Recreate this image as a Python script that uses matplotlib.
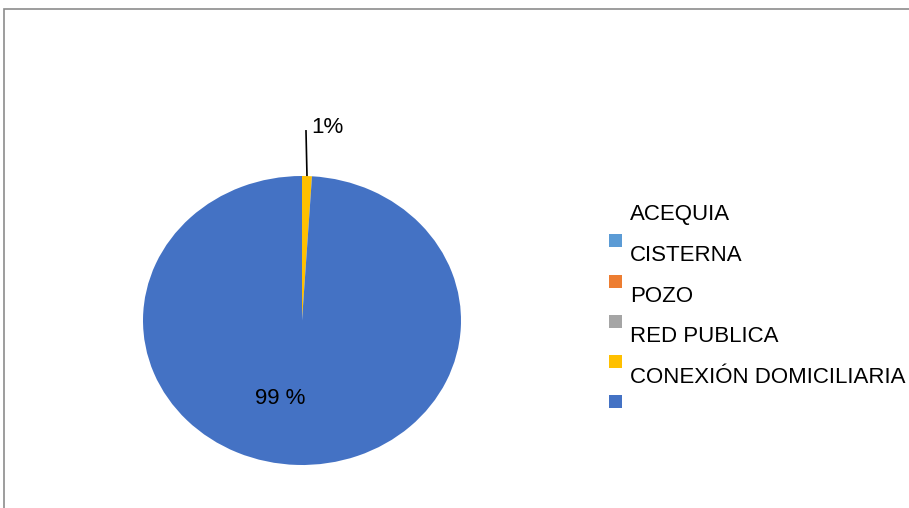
import math
import matplotlib
matplotlib.use("Agg")
import matplotlib.pyplot as plt
from matplotlib.patches import Rectangle

plt.rcParams['font.family'] = ['Liberation Sans', 'DejaVu Sans']

# abastecimiento de agua (%)
categorias = ["ACEQUIA", "CISTERNA", "POZO", "RED PUBLICA", "CONEXIÓN DOMICILIARIA", ""]
valores = [0, 0, 0, 1, 99]
colores = ["#5B9BD5", "#ED7D31", "#A5A5A5", "#FFC000", "#4472C4"]
etiquetas = ["", "", "", "1%", "99 %"]

W, H = 909, 508
fig = plt.figure(figsize=(W / 100, H / 100), dpi=100)

# marco gris del area del grafico
fig.patches.append(Rectangle((4 / W, -0.1), 1.2, 1 - 9 / H + 0.1, transform=fig.transFigure,
                             fill=False, edgecolor="#8C8C8C", linewidth=1.2))

# el circulo aparece algo achatado
ax = fig.add_axes([143 / W, 1 - 465 / H, 318 / W, 289 / H])
wedges, _ = ax.pie(valores, colors=colores, startangle=90, counterclock=False, radius=1)
ax.set_xlim(-1, 1)
ax.set_ylim(-1, 1)
ax.set_aspect('auto')
ax.axis('off')

# etiqueta de la porcion pequena con linea guia
total = sum(valores)
acum = sum(valores[:3])
ang = math.radians(90 - 360 * (acum + valores[3] / 2) / total)
ax.plot([math.cos(ang), 0.025], [math.sin(ang), 1.318], color='black', lw=1.2,
        clip_on=False, solid_capstyle='butt')
ax.text(0.057, 1.298, etiquetas[3], fontsize=16, ha='left', va='baseline')
ax.text(-0.14, -0.578, etiquetas[4], fontsize=16, ha='center', va='baseline')

# leyenda: los cuadros quedan desplazados bajo cada texto
y_txt = [220, 261, 302, 342, 383]
for nombre, y in zip(categorias, y_txt):
    if nombre:
        fig.text(630 / W, 1 - y / H, nombre, fontsize=16, va='baseline', ha='left')
y_box = [240, 281, 321, 361, 401]
for c, y in zip(colores, y_box):
    fig.patches.append(Rectangle((609 / W, 1 - (y + 6.5) / H), 13 / W, 13 / H,
                                 transform=fig.transFigure, facecolor=c, edgecolor='none'))

fig.savefig("out.png", dpi=100)
